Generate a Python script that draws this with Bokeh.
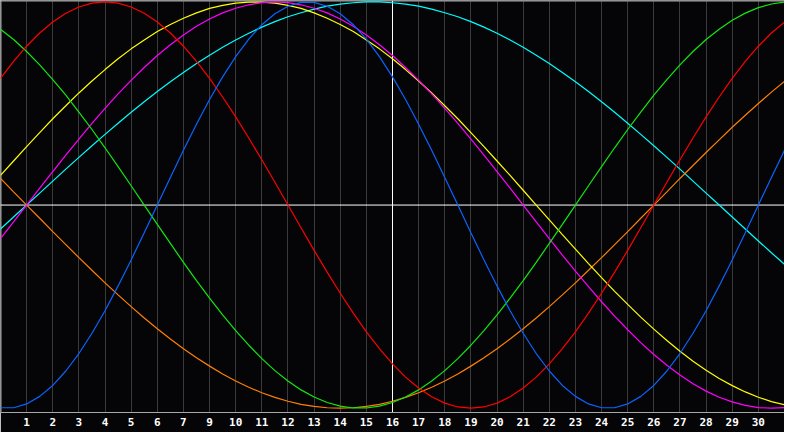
from bokeh.plotting import figure
from bokeh.models import Range1d, FixedTicker, Span
from bokeh.embed import file_html
from bokeh.resources import INLINE

# day positions along the chart (0 = left edge, 30 = right edge), half-day steps
days = [0.0, 0.5, 1.0, 1.5, 2.0, 2.5, 3.0, 3.5, 4.0, 4.5, 5.0, 5.5, 6.0, 6.5,
        7.0, 7.5, 8.0, 8.5, 9.0, 9.5, 10.0, 10.5, 11.0, 11.5, 12.0, 12.5,
        13.0, 13.5, 14.0, 14.5, 15.0, 15.5, 16.0, 16.5, 17.0, 17.5, 18.0,
        18.5, 19.0, 19.5, 20.0, 20.5, 21.0, 21.5, 22.0, 22.5, 23.0, 23.5,
        24.0, 24.5, 25.0, 25.5, 26.0, 26.5, 27.0, 27.5, 28.0, 28.5, 29.0,
        29.5, 30.0]

# positions of the day labels / grid lines and their texts
tick_days = [1, 2, 3, 4, 5, 6, 7, 8, 9, 10, 11, 12, 13, 14, 15,
             16, 17, 18, 19, 20, 21, 22, 23, 24, 25, 26, 27, 28, 29]
tick_labels = ["1", "2", "3", "4", "5", "6", "7", "9", "10", "11", "12",
               "13", "14", "15", "16", "17", "18", "19", "20", "21", "22",
               "23", "24", "25", "26", "27", "28", "29", "30"]
today_index = 15

# cycle values (-1 .. +1) read at each half-day position
blue = [-0.998, -0.998, -0.979, -0.942, -0.888, -0.817, -0.731, -0.631,
        -0.520, -0.398, -0.270, -0.136, 0.000, 0.136, 0.270, 0.398, 0.520,
        0.631, 0.731, 0.817, 0.888, 0.942, 0.979, 0.998, 0.998, 0.979,
        0.942, 0.888, 0.817, 0.731, 0.631, 0.520, 0.398, 0.270, 0.136,
        0.000, -0.136, -0.270, -0.398, -0.520, -0.631, -0.731, -0.817,
        -0.888, -0.942, -0.979, -0.998, -0.998, -0.979, -0.942, -0.888,
        -0.817, -0.731, -0.631, -0.520, -0.398, -0.270, -0.136, 0.000,
        0.136, 0.270]
red = [0.624, 0.707, 0.782, 0.847, 0.901, 0.944, 0.975, 0.994, 1.000, 0.994,
       0.975, 0.944, 0.901, 0.847, 0.782, 0.707, 0.624, 0.532, 0.434,
       0.330, 0.223, 0.112, 0.000, -0.112, -0.223, -0.330, -0.434, -0.532,
       -0.624, -0.707, -0.782, -0.847, -0.901, -0.944, -0.975, -0.994,
       -1.000, -0.994, -0.975, -0.944, -0.901, -0.847, -0.782, -0.707,
       -0.624, -0.532, -0.434, -0.330, -0.223, -0.112, 0.000, 0.112, 0.223,
       0.330, 0.434, 0.532, 0.624, 0.707, 0.782, 0.847, 0.901]
green = [0.866, 0.815, 0.756, 0.690, 0.618, 0.541, 0.458, 0.372, 0.282,
         0.189, 0.095, 0.000, -0.095, -0.189, -0.282, -0.372, -0.458,
         -0.541, -0.618, -0.690, -0.756, -0.815, -0.866, -0.910, -0.945,
         -0.972, -0.990, -0.999, -0.999, -0.990, -0.972, -0.945, -0.910,
         -0.866, -0.815, -0.756, -0.690, -0.618, -0.541, -0.458, -0.372,
         -0.282, -0.189, -0.095, 0.000, 0.095, 0.189, 0.282, 0.372, 0.458,
         0.541, 0.618, 0.690, 0.756, 0.815, 0.866, 0.910, 0.945, 0.972,
         0.990, 0.999]
yellow = [0.146, 0.217, 0.288, 0.357, 0.425, 0.489, 0.552, 0.611, 0.667,
          0.720, 0.769, 0.813, 0.854, 0.889, 0.920, 0.946, 0.968, 0.983,
          0.994, 0.999, 0.999, 0.994, 0.983, 0.968, 0.946, 0.920, 0.889,
          0.854, 0.813, 0.769, 0.720, 0.667, 0.611, 0.552, 0.489, 0.425,
          0.357, 0.288, 0.217, 0.146, 0.073, 0.000, -0.073, -0.146, -0.217,
          -0.288, -0.357, -0.425, -0.489, -0.552, -0.611, -0.667, -0.720,
          -0.769, -0.813, -0.854, -0.889, -0.920, -0.946, -0.968, -0.983]
magenta = [-0.165, -0.083, 0.000, 0.083, 0.165, 0.246, 0.325, 0.402, 0.476,
           0.547, 0.614, 0.677, 0.736, 0.789, 0.837, 0.880, 0.916, 0.946,
           0.969, 0.986, 0.997, 1.000, 0.997, 0.986, 0.969, 0.946, 0.916,
           0.880, 0.837, 0.789, 0.736, 0.677, 0.614, 0.547, 0.476, 0.402,
           0.325, 0.246, 0.165, 0.083, 0.000, -0.083, -0.165, -0.246, -0.325,
           -0.402, -0.476, -0.547, -0.614, -0.677, -0.736, -0.789, -0.837,
           -0.880, -0.916, -0.946, -0.969, -0.986, -0.997, -1.000, -0.997]
orange = [0.131, 0.065, 0.000, -0.065, -0.131, -0.195, -0.259, -0.321,
          -0.383, -0.442, -0.500, -0.556, -0.609, -0.659, -0.707, -0.752,
          -0.793, -0.832, -0.866, -0.897, -0.924, -0.947, -0.966, -0.981,
          -0.991, -0.998, -1.000, -0.998, -0.991, -0.981, -0.966, -0.947,
          -0.924, -0.897, -0.866, -0.832, -0.793, -0.752, -0.707, -0.659,
          -0.609, -0.556, -0.500, -0.442, -0.383, -0.321, -0.259, -0.195,
          -0.131, -0.065, 0.000, 0.065, 0.131, 0.195, 0.259, 0.321, 0.383,
          0.442, 0.500, 0.556, 0.609]
cyan = [-0.118, -0.059, 0.000, 0.059, 0.118, 0.177, 0.235, 0.292, 0.348,
        0.403, 0.457, 0.509, 0.559, 0.607, 0.653, 0.697, 0.738, 0.777,
        0.813, 0.846, 0.876, 0.903, 0.927, 0.947, 0.965, 0.979, 0.989,
        0.996, 1.000, 1.000, 0.996, 0.989, 0.979, 0.965, 0.947, 0.927,
        0.903, 0.876, 0.846, 0.813, 0.777, 0.738, 0.697, 0.653, 0.607,
        0.559, 0.509, 0.457, 0.403, 0.348, 0.292, 0.235, 0.177, 0.118,
        0.059, 0.000, -0.059, -0.118, -0.177, -0.235, -0.292]

series = [
    (cyan, "#00ffff"),
    (orange, "#ff8000"),
    (yellow, "#ffff00"),
    (magenta, "#ff00ff"),
    (green, "#10e810"),
    (red, "#ff0000"),
    (blue, "#0a64ff"),
]

BG = "#050508"
y_lo, y_hi = -1.0213, 1.0071

p = figure(width=784, height=432, output_backend="svg", toolbar_location=None,
           x_range=Range1d(days[0], days[-1]), y_range=Range1d(y_lo, y_hi),
           y_axis_location=None,
           background_fill_color=BG, border_fill_color=BG,
           min_border_left=0, min_border_right=0, min_border_top=0,
           min_border_bottom=20, outline_line_color=None)

ax = p.xaxis[0]
ax.ticker = FixedTicker(ticks=tick_days)
ax.major_label_overrides = {d: t for d, t in zip(tick_days, tick_labels)}
ax.axis_line_color = "#a8a8a8"
ax.axis_line_width = 1
ax.major_tick_line_color = None
ax.minor_tick_line_color = None
ax.major_tick_out = 0
ax.major_tick_in = 0
ax.major_label_standoff = 5
ax.major_label_text_color = "#ffffff"
ax.major_label_text_font = "DejaVu Sans Mono"
ax.major_label_text_font_style = "bold"
ax.major_label_text_font_size = "11px"

p.xgrid.ticker = FixedTicker(ticks=tick_days)
p.xgrid.grid_line_color = "#3a3a3a"
p.xgrid.grid_line_width = 1
p.ygrid.visible = False

# frame borders (left, top)
p.add_layout(Span(location=days[0], dimension="height", line_color="#a8a8a8",
                  line_width=2, level="underlay"))
p.add_layout(Span(location=y_hi, dimension="width", line_color="#a8a8a8",
                  line_width=2, level="underlay"))
# zero line and today's line
p.add_layout(Span(location=0, dimension="width", line_color="#ffffff",
                  line_width=1, level="underlay"))
p.add_layout(Span(location=today_index, dimension="height",
                  line_color="#ffffff", line_width=1, level="underlay"))

for vals, col in series:
    p.line(days, vals, line_color=col, line_width=1.2)

open("out.html", "w").write(file_html(p, INLINE))
